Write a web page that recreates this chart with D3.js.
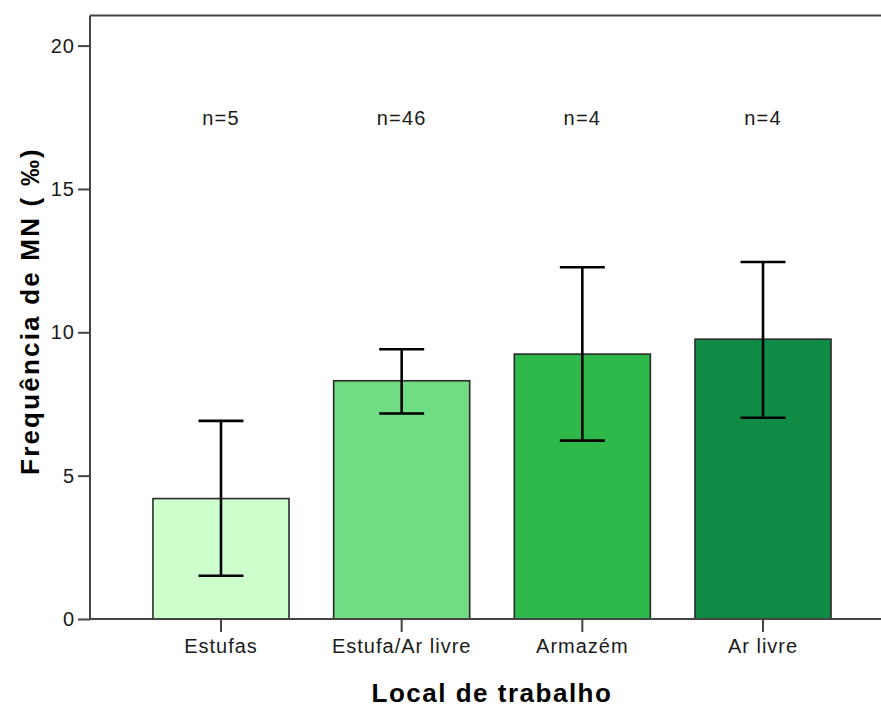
<!DOCTYPE html>
<html>
<head>
<meta charset="utf-8">
<script src="https://cdn.jsdelivr.net/npm/d3@7"></script>
<style>
  html, body { margin: 0; padding: 0; background: #fff; }
  svg { display: block; font-family: "Liberation Sans", Arial, sans-serif; }
</style>
</head>
<body>
<svg id="chart" width="881" height="707"></svg>
<script>
// Micronucleus frequency (‰) by workplace, mean with 95% CI
const categories = ["Estufas", "Estufa/Ar livre", "Armazém", "Ar livre"];
const means      = [4.20, 8.31, 9.24, 9.76];
const ciLower    = [1.51, 7.17, 6.22, 7.02];
const ciUpper    = [6.91, 9.41, 12.27, 12.45];
const counts     = ["n=5", "n=46", "n=4", "n=4"];
const barColors  = ["#ccffcc", "#70dc84", "#30b94b", "#0f8b46"];
const yTicks     = [0, 5, 10, 15, 20];
const yLabel     = "Frequência de MN ( ‰)";
const xLabel     = "Local de trabalho";

const svg = d3.select("#chart");
const plot = { left: 90, top: 15.5, bottom: 619, right: 894 };

const x = d3.scaleBand()
  .domain(categories)
  .range([plot.left, plot.right])
  .paddingInner(0.247)
  .paddingOuter(0.3485);

const y = d3.scaleLinear()
  .domain([0, 21.05])
  .range([plot.bottom, plot.top]);

// bars
svg.append("g").selectAll("rect")
  .data(categories)
  .join("rect")
  .attr("x", d => x(d))
  .attr("y", (d, i) => y(means[i]))
  .attr("width", x.bandwidth())
  .attr("height", (d, i) => y(0) - y(means[i]))
  .attr("fill", (d, i) => barColors[i])
  .attr("stroke", "#2a2a2a")
  .attr("stroke-width", 1.6);

// error bars
const capHalf = 22.5;
const eb = svg.append("g")
  .attr("stroke", "#000")
  .attr("stroke-width", 2.6)
  .attr("fill", "none");
categories.forEach((c, i) => {
  const cx = x(c) + x.bandwidth() / 2;
  eb.append("line").attr("x1", cx).attr("x2", cx)
    .attr("y1", y(ciLower[i])).attr("y2", y(ciUpper[i]));
  eb.append("line").attr("x1", cx - capHalf).attr("x2", cx + capHalf)
    .attr("y1", y(ciUpper[i])).attr("y2", y(ciUpper[i]));
  eb.append("line").attr("x1", cx - capHalf).attr("x2", cx + capHalf)
    .attr("y1", y(ciLower[i])).attr("y2", y(ciLower[i]));
});

// group sizes
svg.append("g").selectAll("text")
  .data(categories)
  .join("text")
  .attr("x", d => x(d) + x.bandwidth() / 2)
  .attr("y", y(17.24))
  .attr("text-anchor", "middle")
  .attr("font-size", 20)
  .attr("letter-spacing", 1.2)
  .attr("fill", "#1a1a1a")
  .text((d, i) => counts[i]);

// frame top line
svg.append("line")
  .attr("x1", plot.left).attr("x2", plot.right)
  .attr("y1", plot.top).attr("y2", plot.top)
  .attr("stroke", "#444").attr("stroke-width", 2);

// y axis
const yAxis = svg.append("g")
  .attr("transform", `translate(${plot.left},0)`)
  .call(d3.axisLeft(y).tickValues(yTicks).tickSize(12).tickPadding(3).tickSizeOuter(0));
yAxis.select(".domain").attr("stroke", "#444").attr("stroke-width", 2)
  .attr("d", `M0,${plot.top}V${plot.bottom}`);
yAxis.selectAll(".tick line").attr("stroke", "#444").attr("stroke-width", 2);
yAxis.selectAll(".tick text")
  .attr("font-size", 20).attr("letter-spacing", 1).attr("fill", "#1a1a1a")
  .attr("font-family", "Liberation Sans, Arial, sans-serif");

// x axis
const xAxis = svg.append("g")
  .attr("transform", `translate(0,${plot.bottom})`)
  .call(d3.axisBottom(x).tickSize(13).tickPadding(7).tickSizeOuter(0));
xAxis.select(".domain").attr("stroke", "#444").attr("stroke-width", 2)
  .attr("d", `M${plot.left},0H${plot.right}`);
xAxis.selectAll(".tick line").attr("stroke", "#444").attr("stroke-width", 2);
xAxis.selectAll(".tick text")
  .attr("font-size", 20).attr("letter-spacing", 1).attr("fill", "#1a1a1a")
  .attr("font-family", "Liberation Sans, Arial, sans-serif");

// axis titles
svg.append("text")
  .attr("x", (plot.left + plot.right) / 2)
  .attr("y", 702)
  .attr("text-anchor", "middle")
  .attr("font-size", 26)
  .attr("font-weight", "bold")
  .attr("letter-spacing", 1.5)
  .attr("fill", "#000")
  .text(xLabel);

svg.append("text")
  .attr("transform", "translate(39,311) rotate(-90)")
  .attr("text-anchor", "middle")
  .attr("font-size", 26)
  .attr("font-weight", "bold")
  .attr("letter-spacing", 2.2)
  .attr("fill", "#000")
  .text(yLabel);
</script>
</body>
</html>
